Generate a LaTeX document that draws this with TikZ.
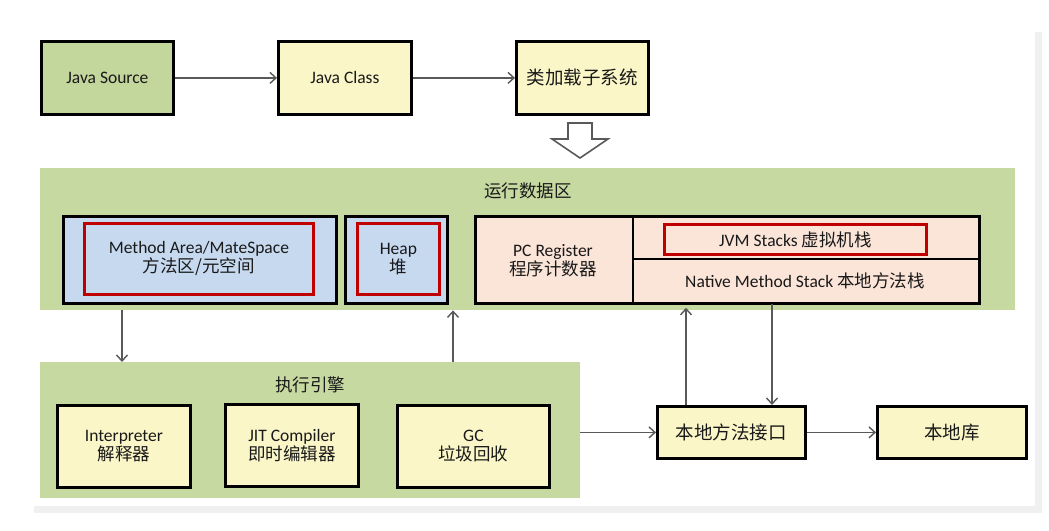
\documentclass[tikz,border=0pt]{standalone}
\usepackage{fontspec}
\setmainfont{Carlito}
\newfontfamily\cjk{Noto Sans CJK SC}
\usetikzlibrary{arrows.meta}
\definecolor{srcgreen}{HTML}{C3D69B}
\definecolor{areagreen}{HTML}{C6D9A0}
\definecolor{boxyellow}{HTML}{FAF6C8}
\definecolor{boxblue}{HTML}{C6D9EF}
\definecolor{boxpeach}{HTML}{FBE4D8}
\definecolor{redline}{HTML}{C00000}
\definecolor{arrgray}{HTML}{595959}
\tikzset{
  x=1pt, y=-1pt,
  every node/.style={font=\fontsize{17.5}{20}\selectfont, align=center, text=black!90},
  blk/.style={draw=black, line width=2.8pt, inner sep=0pt},
  redbox/.style={draw=redline, line width=2.8pt, inner sep=0pt},
  area/.style={fill=areagreen, draw=none, inner sep=0pt},
  conn/.style={draw=arrgray, line width=1.4pt, -{Straight Barb[length=6pt,width=11pt,line width=1.4pt]}},
}
\newcommand{\boxat}[6]{% name, x1,y1,x2,y2, style
  \node[#6, minimum width=#4-#2, minimum height=#5-#3, anchor=north west] (#1) at (#2,#3) {};}
\newcommand{\zhbig}{\cjk\fontsize{18.5}{20}\selectfont}
\begin{document}
\begin{tikzpicture}
\useasboundingbox (0,0) rectangle (1049,530);
% slide shadow
\fill[black!12] (36,34) rectangle (1040,511);
\fill[black!6] (34,32) rectangle (1042,513);
\fill[white] (30,28) rectangle (1035,506);
% top row
\boxat{src}{40}{40}{172}{113}{blk, fill=srcgreen}
\node at (src.center) {Java Source};
\boxat{cls}{277}{40}{410}{113}{blk, fill=boxyellow}
\node at (cls.center) {Java Class};
\boxat{ldr}{515}{40}{647}{113}{blk, fill=boxyellow}
\node at (ldr.center) {\zhbig 类加载子系统};
\draw[conn] (src) -- (cls);
\draw[conn] (cls) -- (ldr);
% hollow arrow
\draw[arrgray, line width=1.6pt, fill=white, line join=miter]
  (568,123) -- (592,123) -- (592,139) -- (608,139) -- (580,158) -- (552,139) -- (568,139) -- cycle;
% runtime data area
\boxat{rda}{40}{168}{1015}{310}{area}
\node (rdat) at (528,191) {\cjk 运行数据区};
\boxat{ma}{62}{215}{335}{302}{blk, fill=boxblue}
\boxat{mar}{83}{222}{312}{293}{redbox}
\node at (mar.center) {Method Area/MateSpace\\[-1pt]{\cjk 方法区/元空间}};
\boxat{hp}{344}{215}{446}{302}{blk, fill=boxblue}
\boxat{hpr}{356}{222}{438}{293}{redbox}
\node at (hpr.center) {Heap\\[-1pt]{\cjk 堆}};
\boxat{pc}{474}{215}{978}{302}{blk, fill=boxpeach}
\draw[black, line width=2.8pt] (633,215) -- (633,302);
\draw[black, line width=2.8pt] (633,259) -- (978,259);
\coordinate (pcc) at (553,261);
\node at (pcc) {PC Register\\[-1pt]{\cjk 程序计数器}};
\boxat{jvm}{663}{223}{925}{253}{redbox}
\node at (jvm.center) {JVM Stacks {\cjk 虚拟机栈}};
\coordinate (nms) at (805,281);
\node at (nms) {Native Method Stack {\cjk 本地方法栈}};
% execution engine
\boxat{ee}{40}{362}{580}{498}{area}
\node (eet) at (310,385) {\cjk 执行引擎};
\boxat{itp}{56}{404}{189}{486}{blk, fill=boxyellow}
\node at (itp.center) {Interpreter\\[-1pt]{\cjk 解释器}};
\boxat{jit}{224}{403}{357}{485}{blk, fill=boxyellow}
\node at (jit.center) {JIT Compiler\\[-1pt]{\cjk 即时编辑器}};
\boxat{gc}{396}{404}{548}{486}{blk, fill=boxyellow}
\node at (gc.center) {GC\\[-1pt]{\cjk 垃圾回收}};
% native
\boxat{nif}{656}{405}{804}{457}{blk, fill=boxyellow}
\node at (nif.center) {\zhbig 本地方法接口};
\boxat{nlb}{876}{405}{1025}{457}{blk, fill=boxyellow}
\node at (nlb.center) {\zhbig 本地库};
% connectors
\draw[conn] (rda.south -| 122,0) -- (ee.north -| 122,0);
\draw[conn] (ee.north -| 453,0) -- (rda.south -| 453,0);
\draw[conn] (ee.east |- nif.west) -- (nif.west);
\draw[conn] (nif.east) -- (nlb.west);
\draw[conn] (nif.north -| 686,0) -- ([yshift=-3pt]pc.south -| 686,0);
\draw[conn] ([yshift=1pt]pc.south -| 772,0) -- (nif.north -| 772,0);
\end{tikzpicture}
\end{document}
